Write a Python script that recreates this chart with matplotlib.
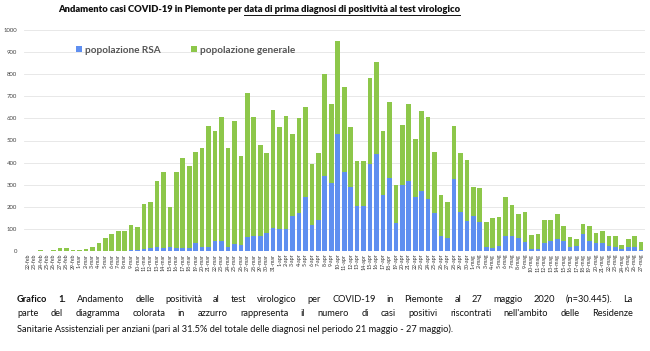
import matplotlib
matplotlib.use("Agg")
import matplotlib.pyplot as plt
from matplotlib.lines import Line2D
from matplotlib.patches import Patch

# ---------------- data ----------------
dates = ([f"{d}-feb" for d in range(22, 30)] + [f"{d}-mar" for d in range(1, 32)]
         + [f"{d}-apr" for d in range(1, 31)] + [f"{d}-mag" for d in range(1, 28)])

rsa = [0, 0, 0, 0, 0, 0, 0, 0, 0, 0,
       0, 0, 0, 1, 2, 2, 3, 3, 9, 12,
       17, 12, 20, 15, 12, 12, 35, 20, 17, 47,
       45, 20, 32, 27, 63, 68, 68, 83, 106, 100,
       100, 160, 173, 243, 118, 140, 339, 309, 531, 356,
       288, 204, 204, 392, 439, 252, 329, 125, 299, 317,
       246, 271, 235, 173, 69, 57, 326, 175, 137, 158,
       130, 20, 15, 24, 66, 66, 57, 42, 9, 9,
       35, 45, 54, 45, 20, 23, 75, 45, 35, 35,
       24, 20, 9, 17, 20, 5]

generale = [2, 1, 3, 2, 3, 14, 14, 6, 3, 10,
            20, 35, 57, 74, 87, 88, 113, 104, 202, 210,
            301, 347, 178, 342, 410, 371, 415, 446, 550, 496,
            563, 446, 556, 403, 653, 540, 410, 362, 532, 460,
            512, 369, 427, 410, 276, 305, 462, 356, 419, 388,
            275, 205, 203, 392, 415, 291, 344, 174, 271, 348,
            259, 362, 373, 273, 184, 166, 241, 267, 275, 132,
            155, 113, 136, 128, 180, 141, 110, 136, 63, 68,
            105, 94, 112, 67, 42, 33, 49, 68, 46, 57,
            44, 48, 18, 37, 46, 34]

series_names = ["popolazione RSA", "popolazione generale"]
yticks = list(range(0, 1001, 100))

title_a = "Andamento casi COVID-19 in Piemonte per "
title_b = "data di prima diagnosi di positività al test virologico"
caption_lines = [
    [("Grafico 1.", "bold"), ("Andamento delle positività al test virologico per COVID-19 in Piemonte al 27 maggio 2020 (n=30.445). La", "normal")],
    [("parte del diagramma colorata in azzurro rappresenta il numero di casi positivi riscontrati nell'ambito delle Residenze", "normal")],
    [("Sanitarie Assistenziali per anziani (pari al 31.5% del totale delle diagnosi nel periodo 21 maggio - 27 maggio).", "normal")],
]

# ---------------- style ----------------
BLUE = "#5f8ff0"
GREEN = "#8dc74a"
FONT = "Lato"
W, H = 650, 351

plt.rcParams["font.family"] = [FONT, "DejaVu Sans"]
fig = plt.figure(figsize=(W / 100, H / 100), dpi=100)
fig.patch.set_facecolor("white")

def fx(px):
    return px / W

def fy(py):
    return 1 - py / H

ax = fig.add_axes([fx(24), fy(251), fx(645) - fx(24), fy(30) - fy(251)])
x = list(range(len(dates)))
ax.bar(x, rsa, width=0.72, color=BLUE, zorder=3)
ax.bar(x, generale, width=0.72, bottom=rsa, color=GREEN, zorder=3)
ax.set_xlim(-0.6, len(dates) - 0.4)
ax.set_ylim(0, 1000)
ax.set_yticks(yticks)
ax.set_yticklabels([str(v) for v in yticks], fontsize=4.3, color="#444444")
ax.set_xticks(x)
ax.set_xticklabels(dates, rotation=90, fontsize=3.8, color="#333333")
ax.tick_params(axis="both", length=0, pad=2)
ax.tick_params(axis="y", pad=5)
ax.grid(axis="y", color="#e4e4e4", linewidth=0.6, zorder=0)
for s in ax.spines.values():
    s.set_visible(False)

handles = [Patch(facecolor=BLUE, edgecolor="none"), Patch(facecolor=GREEN, edgecolor="none")]
ax.legend(handles, series_names, loc="upper left", bbox_to_anchor=(0.07, 0.97), ncol=2,
          frameon=False, handlelength=0.55, handleheight=0.55, handletextpad=0.35,
          columnspacing=3.0, labelcolor="#555555", prop={"weight": "bold", "size": 7.2})

# ---------------- title with underline ----------------
fig.canvas.draw()
r = fig.canvas.get_renderer()

TFS = 6.75
ta = fig.text(fx(58), fy(10), title_a, fontsize=TFS, fontweight="heavy", va="center", ha="left", color="#111111")
bb = ta.get_window_extent(r)
tb = fig.text(bb.x1 / W, fy(10), title_b, fontsize=TFS, fontweight="heavy", va="center", ha="left", color="#111111")
bb2 = tb.get_window_extent(r)
fig.add_artist(Line2D([bb2.x0 / W, bb2.x1 / W], [fy(15.0), fy(15.0)], color="#111111", lw=0.7,
                      transform=fig.transFigure))

# ---------------- justified caption ----------------
X0, X1 = 17, 633
line_y = [299, 314, 329]
CFS = 6.65
for li, segs in enumerate(caption_lines):
    if li == len(caption_lines) - 1:
        fig.text(fx(X0), fy(line_y[li]), segs[0][0], fontsize=CFS, va="center", ha="left", color="#111111")
        continue
    words = []
    for txt, wt in segs:
        for w in txt.split(" "):
            words.append((w, wt))
    arts = []
    widths = []
    for w, wt in words:
        t = fig.text(0, fy(line_y[li]), w, fontsize=CFS, fontweight=wt, va="center", ha="left", color="#111111")
        arts.append(t)
        widths.append(t.get_window_extent(r).width)
    gap = (X1 - X0 - sum(widths)) / (len(words) - 1)
    xpos = X0
    for t, wd in zip(arts, widths):
        t.set_x(xpos / W)
        xpos += wd + gap

fig.savefig("out.png", dpi=100, facecolor="white")
